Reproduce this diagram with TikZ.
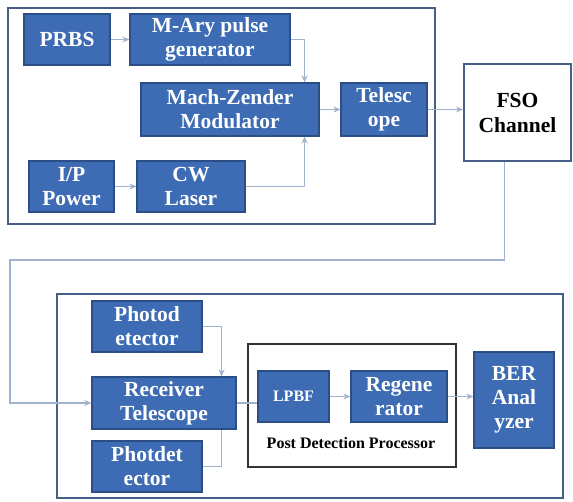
\documentclass[tikz,border=0pt]{standalone}
\usepackage{fontspec}
\setmainfont{Liberation Serif}
\usepackage{tikz}
\usetikzlibrary{arrows.meta}
\usetikzlibrary{fit}
\definecolor{blkfill}{RGB}{62,108,180}
\definecolor{blkline}{RGB}{44,78,135}
\definecolor{wire}{RGB}{160,178,205}
\definecolor{frameline}{RGB}{70,95,135}
\tikzstyle{blk} = [rectangle, draw=blkline, fill=blkfill, line width=1.2pt, text=white, align=center, inner sep=0pt, font=\fontsize{21.5}{24}\selectfont\bfseries]
\tikzstyle{frame} = [rectangle, draw=frameline, line width=2pt, inner sep=0pt]
\tikzstyle{arrow} = [wire, line width=1.3pt, -{Stealth[length=7pt,width=6pt]}]
\tikzstyle{wireline} = [wire, line width=1.3pt]

\begin{document}
\begin{tikzpicture}[x=1pt,y=-1pt]
\useasboundingbox (0,0) rectangle (573,501);

% transmitter side
\node (tx) [frame, fit={(8,8)(435,224)}] {};
\node (prbs) [blk, minimum width=86, minimum height=51] at (67,39.5) {PRBS};
\node (mary) [blk, minimum width=160, minimum height=51] at (210,39.5) {M-Ary pulse\\generator};
\node (mzm) [blk, minimum width=178, minimum height=53] at (230,109.5) {Mach-Zender\\Modulator};
\node (tele) [blk, minimum width=86, minimum height=53] at (384,109.5) {Telesc\\ope};
\node (ip) [blk, minimum width=85, minimum height=51] at (71.5,186.5) {I/P\\Power};
\node (cw) [blk, minimum width=108, minimum height=51] at (191,186.5) {CW\\Laser};

% channel
\node (fso) [frame, fill=white, minimum width=107, minimum height=97, align=center, font=\fontsize{21.5}{25}\selectfont\bfseries] at (517.5,112.5) {FSO\\Channel};
\coordinate (loop) at (10,260);

% receiver side
\node (rx) [frame, fit={(57,294)(563,498)}] {};
\node (pdp) [frame, line width=1.6pt, draw=black!80, fit={(248,344)(456,467)}] {};
\node (pd1) [blk, minimum width=110, minimum height=51] at (147,326.5) {Photod\\etector};
\node (rxt) [blk, minimum width=144, minimum height=52] at (164,403) {Receiver\\Telescope};
\node (pd2) [blk, minimum width=110, minimum height=51] at (147,466.5) {Photdet\\ector};
\node (lpbf) [blk, minimum width=71, minimum height=51, font=\fontsize{16}{18}\selectfont\bfseries] at (293.5,396.5) {LPBF};
\node (regen) [blk, minimum width=96, minimum height=51] at (399,396.5) {Regene\\rator};
\node (ber) [blk, minimum width=80, minimum height=96] at (514,400) {BER\\Anal\\yzer};
\node (pdplabel) [font=\fontsize{16}{18}\selectfont\bfseries] at (351,443) {Post Detection Processor};

\draw [arrow] (prbs) -- (mary);
\draw [arrow] (mary.east) -| ([xshift=-15pt]mzm.north east);
\draw [arrow] (ip) -- (cw);
\draw [arrow] (cw.east) -| ([xshift=-15pt]mzm.south east);
\draw [arrow] (mzm) -- (tele);
\draw [arrow] (tele.east) -- (tele.east -| fso.west);
\draw [arrow] ([xshift=-13pt]fso.south) |- (loop) |- (rxt.west);
\draw [arrow] (pd1.east) -| ([xshift=-15pt]rxt.north east);
\draw [wireline] (pd2.east) -| ([xshift=-15pt]rxt.south east);
\draw [wireline] (rxt.east) -- (rxt.east -| lpbf.west);
\draw [arrow] (lpbf) -- (regen);
\draw [arrow] (regen.east) -- (regen.east -| ber.west);

\end{tikzpicture}
\end{document}
